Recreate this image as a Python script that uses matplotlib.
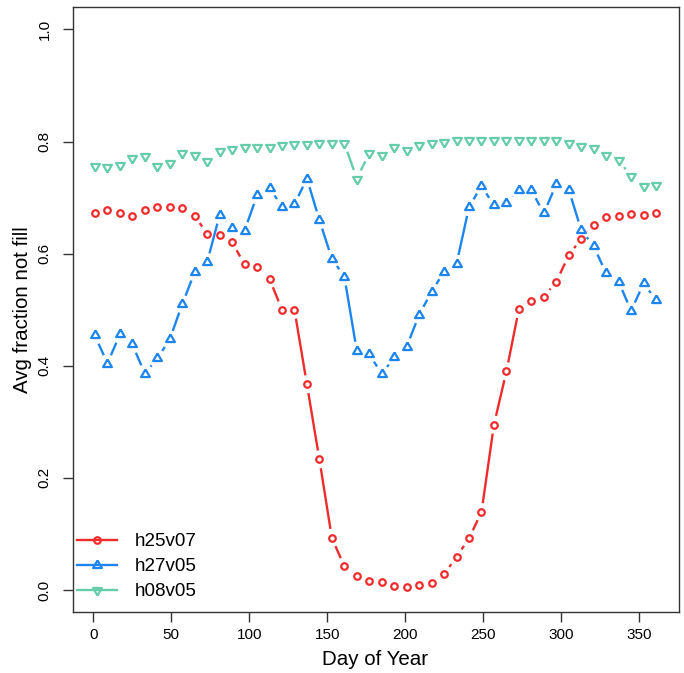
import numpy as np
import matplotlib
matplotlib.use("Agg")
import matplotlib.pyplot as plt
from matplotlib.lines import Line2D
from matplotlib.collections import LineCollection

plt.rcParams['font.family'] = ['Liberation Sans', 'DejaVu Sans']

# day of year (8-day composites)
days = np.arange(1, 362, 8)

h25v07 = [0.673, 0.678, 0.673, 0.668, 0.678, 0.684, 0.684, 0.682, 0.668, 0.635,
          0.634, 0.620, 0.581, 0.577, 0.555, 0.500, 0.500, 0.367, 0.233, 0.093,
          0.042, 0.025, 0.016, 0.015, 0.007, 0.006, 0.009, 0.013, 0.028, 0.059,
          0.092, 0.139, 0.295, 0.390, 0.501, 0.516, 0.523, 0.550, 0.597, 0.627,
          0.651, 0.666, 0.668, 0.671, 0.669, 0.672]
h27v05 = [0.454, 0.404, 0.456, 0.438, 0.386, 0.413, 0.447, 0.510, 0.567, 0.585,
          0.669, 0.645, 0.641, 0.704, 0.717, 0.684, 0.688, 0.734, 0.660, 0.591,
          0.559, 0.427, 0.421, 0.385, 0.415, 0.434, 0.491, 0.532, 0.568, 0.582,
          0.683, 0.721, 0.686, 0.690, 0.714, 0.713, 0.672, 0.724, 0.714, 0.642,
          0.613, 0.565, 0.550, 0.498, 0.547, 0.517]
h08v05 = [0.756, 0.754, 0.759, 0.770, 0.775, 0.757, 0.762, 0.779, 0.776, 0.766,
          0.784, 0.787, 0.790, 0.790, 0.790, 0.794, 0.796, 0.796, 0.797, 0.797,
          0.797, 0.734, 0.779, 0.776, 0.791, 0.785, 0.794, 0.797, 0.800, 0.802,
          0.802, 0.803, 0.803, 0.803, 0.803, 0.803, 0.802, 0.802, 0.798, 0.792,
          0.788, 0.776, 0.767, 0.738, 0.721, 0.723]

names = ['h25v07', 'h27v05', 'h08v05']
colors = ['#EE2C2C', '#1C86EE', '#66CDAA']  # firebrick2, dodgerblue2, aquamarine3

# R-like triangles: data point sits at the centroid
tri_up = [(0, 1.555), (1.347, -0.778), (-1.347, -0.778), (0, 1.555)]
tri_dn = [(0, -1.555), (1.347, 0.778), (-1.347, 0.778), (0, -1.555)]
markers = ['o', tri_up, tri_dn]
msizes = [4.7, 7.3, 7.3]

W, H = 684, 673
fig = plt.figure(figsize=(W / 100, H / 100), dpi=100)
ax = fig.add_axes([72.5 / W, (H - 612.4) / H, 606 / W, 605.4 / H])
ax.set_xlim(-13.4, 375.4)
ax.set_ylim(-0.04, 1.04)

gap = 9.0  # px left empty around each point (R type="b")
handles = []
for vals, name, col, mk, ms in zip([h25v07, h27v05, h08v05], names, colors, markers, msizes):
    pts = ax.transData.transform(np.column_stack([days, vals]))
    segs = []
    for p0, p1 in zip(pts[:-1], pts[1:]):
        d = p1 - p0
        L = np.hypot(*d)
        if L > 2 * gap:
            a = p0 + d * gap / L
            b = p1 - d * gap / L
            segs.append(ax.transData.inverted().transform([a, b]))
    ax.add_collection(LineCollection(segs, colors=col, linewidths=1.7))
    ax.plot(days, vals, linestyle='none', marker=mk, markersize=ms,
            markerfacecolor='none', markeredgecolor=col, markeredgewidth=1.6)
    handles.append(Line2D([], [], color=col, lw=1.7, marker=mk, markersize=ms,
                          markerfacecolor='none', markeredgecolor=col,
                          markeredgewidth=1.6))

ax.set_xticks([0, 50, 100, 150, 200, 250, 300, 350])
ax.set_yticks([0.0, 0.2, 0.4, 0.6, 0.8, 1.0])
ax.set_yticklabels(['0.0', '0.2', '0.4', '0.6', '0.8', '1.0'], rotation=90, va='center')
ax.tick_params(axis='both', length=7.2, width=1.0, color='#333333', labelsize=11.0)
ax.tick_params(axis='x', pad=4.3)
ax.tick_params(axis='y', pad=7.8)
for s in ax.spines.values():
    s.set_color('#333333')
    s.set_linewidth(1.0)

ax.set_xlabel('Day of Year', fontsize=14.8, labelpad=5.5)
ax.set_ylabel('Avg fraction not fill', fontsize=14.8)
ax.yaxis.set_label_coords(-0.067, 0.5)

ax.legend(handles, names, loc='lower left', bbox_to_anchor=(0.008, 0.02),
          frameon=False, fontsize=13.5, borderaxespad=0, borderpad=0,
          handlelength=2.1, handletextpad=0.95, labelspacing=0.42, numpoints=1)

fig.savefig('out.png', dpi=100)
